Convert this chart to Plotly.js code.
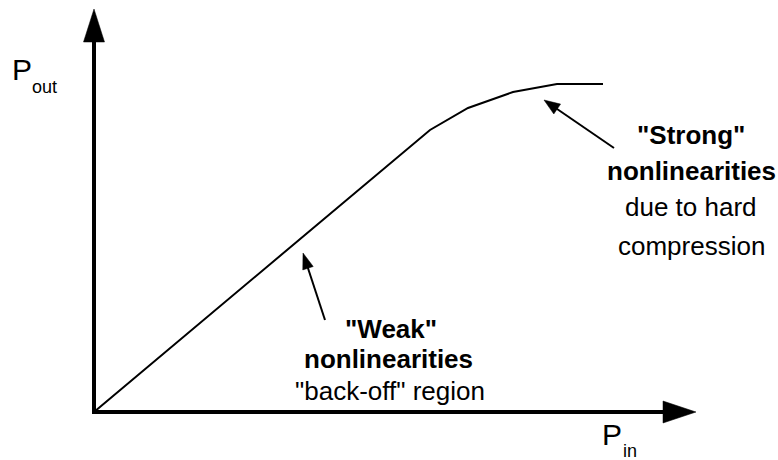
<!DOCTYPE html>
<html>
<head>
<meta charset="utf-8">
<script src="https://cdn.plot.ly/plotly-3.0.1.min.js"></script>
<style>html,body{margin:0;padding:0;background:#fff;}#chart{width:778px;height:460px;}</style>
</head>
<body>
<div id="chart"></div>
<script>
// Transfer curve: input power vs output power (arbitrary units)
var pIn  = [0, 301, 336, 374, 419, 463, 509];
var pOut = [0, 253, 282, 304, 320, 328, 328];

var xAxisLabel = "P";
var xAxisSub = "in";
var yAxisLabel = "P";
var yAxisSub = "out";
var strongLines = ['<b>"Strong"</b>', '<b>nonlinearities</b>', 'due to hard', 'compression'];
var weakLines = ['<b>"Weak"</b>', '<b>nonlinearities</b>', '"back-off" region'];

var FONT = '"Liberation Sans", Arial, Helvetica, sans-serif';

function arrowShapes(tail, tip, headLen, headHalf, width) {
  var dx = tip[0] - tail[0], dy = tip[1] - tail[1];
  var L = Math.sqrt(dx * dx + dy * dy);
  var ux = dx / L, uy = dy / L;
  var bx = tip[0] - ux * headLen, by = tip[1] - uy * headLen;
  var px = -uy, py = ux;
  return [
    {type: 'line', xref: 'x', yref: 'y', x0: tail[0], y0: tail[1], x1: bx + ux * 1, y1: by + uy * 1,
     line: {color: '#000', width: width}},
    {type: 'path', xref: 'x', yref: 'y',
     path: 'M' + tip[0] + ',' + tip[1] + ' L' + (bx + px * headHalf) + ',' + (by + py * headHalf) +
           ' L' + (bx - px * headHalf) + ',' + (by - py * headHalf) + ' Z',
     fillcolor: '#000', line: {color: '#000', width: 0.5}}
  ];
}

var shapes = [];
shapes = shapes.concat(arrowShapes([-2, 0], [602, 0], 33, 11, 4));
shapes = shapes.concat(arrowShapes([0, -2], [0, 403], 33, 10.5, 4));
shapes = shapes.concat(arrowShapes([520, 264], [450, 312], 16, 6, 2));
shapes = shapes.concat(arrowShapes([231, 92], [209, 159], 16, 5.5, 2));

var annotations = [];
function txt(t, x, y, size) {
  annotations.push({text: t, x: x, y: y, xref: 'x', yref: 'y', showarrow: false,
    xanchor: 'center', yanchor: 'middle', borderpad: 0,
    font: {family: FONT, size: size, color: '#000'}});
}
var strongX = 597, strongY = [277, 241, 205, 166];
strongLines.forEach(function (t, i) { txt(t, strongX, strongY[i], 26); });
var weakX = [297, 294, 296], weakY = [83, 53, 21];
weakLines.forEach(function (t, i) { txt(t, weakX[i], weakY[i], 26); });

txt(yAxisLabel, -72, 343, 30);
txt(yAxisSub, -50, 325, 18);
txt(xAxisLabel, 518, -22, 30);
txt(xAxisSub, 536, -39, 18);

var trace = {
  x: pIn, y: pOut, type: 'scatter', mode: 'lines',
  line: {color: '#000', width: 2}, hoverinfo: 'skip', cliponaxis: false
};

var layout = {
  width: 778, height: 460, autosize: false,
  margin: {l: 0, r: 0, t: 0, b: 0, pad: 0},
  paper_bgcolor: '#fff', plot_bgcolor: '#fff',
  showlegend: false,
  xaxis: {range: [-94, 684], visible: false, fixedrange: true},
  yaxis: {range: [-48, 412], visible: false, fixedrange: true},
  shapes: shapes,
  annotations: annotations
};

Plotly.newPlot('chart', [trace], layout, {staticPlot: true, displayModeBar: false});
</script>
</body>
</html>
